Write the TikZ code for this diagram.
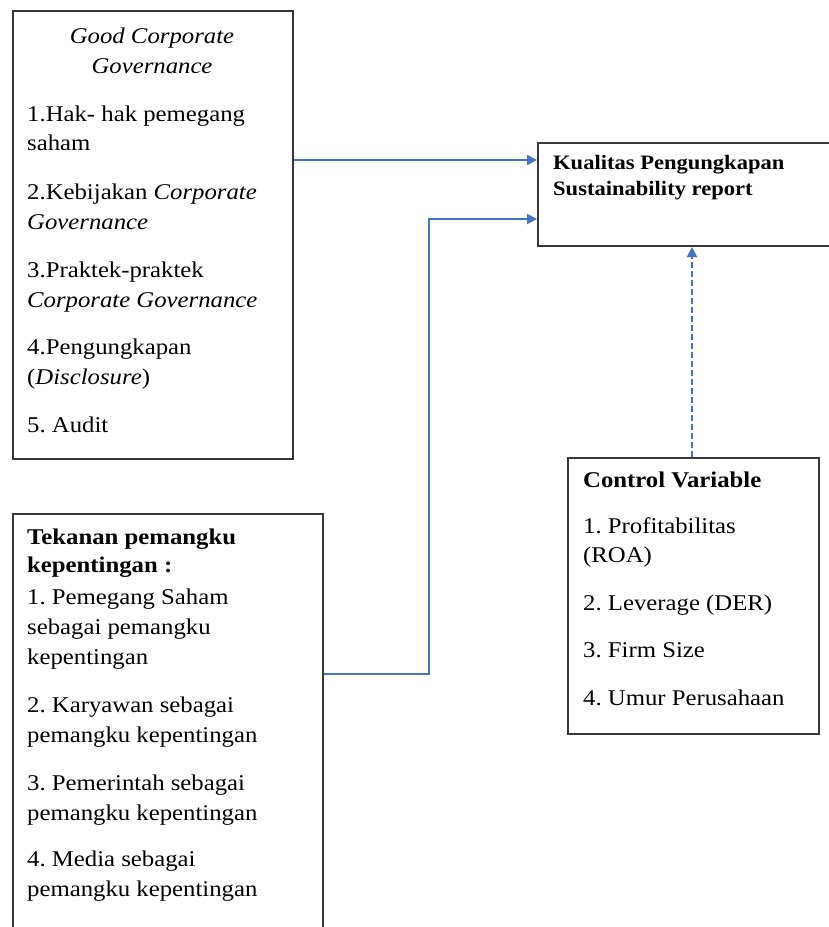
\documentclass[tikz,border=0pt]{standalone}
\usepackage{fontspec}
\setmainfont{Liberation Serif}[FakeStretch=1.1]
\usetikzlibrary{arrows.meta}
\definecolor{lineblue}{RGB}{68,114,196}
\definecolor{boxgray}{RGB}{55,55,55}
\tikzset{
  box/.style={draw=boxgray, line width=2pt, rectangle, inner sep=0pt, anchor=north west},
  txt/.style={anchor=base west, inner sep=0pt, font=\fontsize{22.5}{30}\selectfont\frenchspacing},
  ttl/.style={anchor=base, inner sep=0pt, font=\fontsize{22.5}{30}\selectfont\itshape},
  btxt/.style={anchor=base west, inner sep=0pt, font=\fontsize{22.5}{30}\selectfont\bfseries},
  ktxt/.style={anchor=base west, inner sep=0pt, font=\fontsize{20.5}{26}\selectfont\bfseries},
  arr/.style={draw=lineblue, line width=2pt, -{Triangle[length=10pt,width=10pt]}},
}
\begin{document}
\begin{tikzpicture}[x=1pt,y=-1pt]
\useasboundingbox[fill=white] (0,0) rectangle (829,927);
% boxes
\node[box, minimum width=280pt, minimum height=448pt] (gcg) at (12,10) {};
\node[box, minimum width=380pt, minimum height=103pt] (kual) at (537,142) {};
\node[box, minimum width=251pt, minimum height=276pt] (ctl) at (567,457) {};
\node[box, minimum width=310pt, minimum height=440pt] (tek) at (12,513) {};
% GCG text
\node[ttl] (g0) at (152,43) {Good Corporate};
\node[ttl] (g1) at (152,73) {Governance};
\node[txt] (g2) at (27,121) {1.Hak- hak pemegang};
\node[txt] (g3) at (27,150) {saham};
\node[txt] (g4) at (27,199) {2.Kebijakan \textit{Corporate}};
\node[txt] (g5) at (27,229) {\textit{Governance}};
\node[txt] (g6) at (27,277) {3.Praktek-praktek};
\node[txt] (g7) at (27,307) {\textit{Corporate Governance}};
\node[txt] (g8) at (27,354) {4.Pengungkapan};
\node[txt] (g9) at (27,384) {(\textit{Disclosure})};
\node[txt] (g10) at (27,432) {5. Audit};
% Kualitas text
\node[ktxt] (k0) at (553,169) {Kualitas Pengungkapan};
\node[ktxt] (k1) at (553,195) {Sustainability report};
% Control text
\node[btxt] (c0) at (583,487) {Control Variable};
\node[txt] (c1) at (583,533) {1. Profitabilitas};
\node[txt] (c2) at (583,562) {(ROA)};
\node[txt] (c3) at (583,610) {2. Leverage (DER)};
\node[txt] (c4) at (583,657) {3. Firm Size};
\node[txt] (c5) at (583,705) {4. Umur Perusahaan};
% Tekanan text
\node[btxt] (t0) at (27,544) {Tekanan pemangku};
\node[btxt] (t1) at (27,572) {kepentingan :};
\node[txt] (t2) at (27,604) {1. Pemegang Saham};
\node[txt] (t3) at (27,634) {sebagai pemangku};
\node[txt] (t4) at (27,664) {kepentingan};
\node[txt] (t5) at (27,712) {2. Karyawan sebagai};
\node[txt] (t6) at (27,742) {pemangku kepentingan};
\node[txt] (t7) at (27,790) {3. Pemerintah sebagai};
\node[txt] (t8) at (27,820) {pemangku kepentingan};
\node[txt] (t9) at (27,866) {4. Media sebagai};
\node[txt] (t10) at (27,896) {pemangku kepentingan};
% connectors
\coordinate (y1) at (0,160);
\coordinate (y2) at (0,674);
\coordinate (bend) at (429,219);
\coordinate (dx) at (692,0);
\draw[arr] (gcg.east |- y1) -- (kual.west |- y1);
\draw[arr] (tek.east |- y2) -| (bend) -- (kual.west |- bend);
\draw[arr, line width=1.8pt, dash pattern=on 6pt off 3pt] (ctl.north -| dx) -- (kual.south -| dx);
\end{tikzpicture}
\end{document}
